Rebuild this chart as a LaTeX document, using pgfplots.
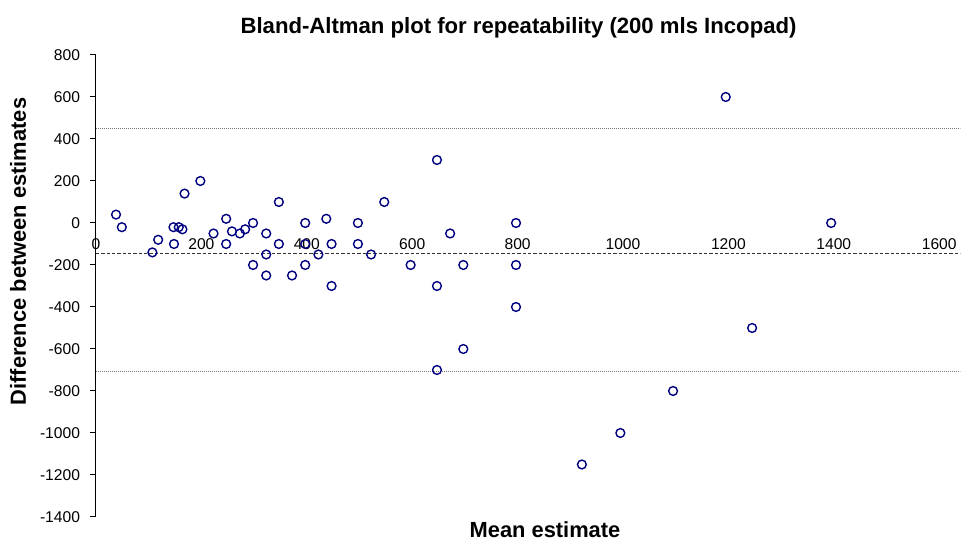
\documentclass[border=0pt]{standalone}
\usepackage{pgfplots}
\pgfplotsset{compat=1.18}
\usepackage{fontspec}
\setmainfont{Liberation Sans}
\definecolor{mk}{RGB}{0,0,128}
\begin{document}
\begin{tikzpicture}
\path[use as bounding box] (-72pt,-18pt) rectangle (648.75pt,387.75pt);
\begin{axis}[
 at={(0pt,0pt)}, anchor=south west,
 scale only axis, width=648.2pt, height=346.5pt,
 xmin=0, xmax=1640, ymin=-1400, ymax=800,
 axis y line=left, axis x line=middle,
 y axis line style={-, black, line width=0.75pt},
 x axis line style={draw=none},
 hide obscured x ticks=false,
 xtick={0,200,...,1600},
 xticklabels={0,200,400,600,800,1000,1200,1400,1600},
 ytick={-1400,-1200,...,800},
 yticklabels={-1400,-1200,-1000,-800,-600,-400,-200,0,200,400,600,800},
 x tick style={draw=none},
 y tick style={black, line width=0.75pt},
 tick align=outside, major tick length=4.5pt,
 tick label style={font=\fontsize{11.7}{14}\selectfont},
 xticklabel style={anchor=north, yshift=-4pt},
 yticklabel style={anchor=east, xshift=-4pt},
]
\addplot[black!80, line width=0.75pt, dash pattern=on 2.4pt off 1.6pt] coordinates {(0,-145) (1640,-145)};
\addplot[black!55, line width=0.75pt, dash pattern=on 0.75pt off 0.75pt] coordinates {(0,450) (1640,450)};
\addplot[black!55, line width=0.75pt, dash pattern=on 0.75pt off 0.75pt] coordinates {(0,-705) (1640,-705)};
\addplot[only marks, mark=o, mark size=3.3pt, mark options={draw=mk, line width=1.05pt}] table {
x y
38 40
49 -20
118 -80
107 -140
147 -20
157 -20
164 -30
148 -100
168 140
198 200
223 -50
247 20
247 -100
258 -40
273 -50
283 -30
298 0
298 -200
323 -50
323 -150
323 -250
347 100
347 -100
372 -250
397 0
397 -100
397 -200
422 -150
437 20
447 -100
447 -300
497 0
497 -100
522 -150
547 100
597 -200
647 300
647 -300
647 -700
672 -50
697 -200
697 -600
797 0
797 -200
797 -400
922 -1150
995 -1000
1095 -800
1195 600
1245 -500
1395 0
};
\end{axis}
\node[inner sep=0pt, font=\bfseries\fontsize{16.6}{20}\selectfont] at (316.9pt,366.75pt) {Bland-Altman plot for repeatability (200 mls Incopad)};
\node[inner sep=0pt, rotate=90, font=\bfseries\fontsize{16.4}{20}\selectfont] at (-58.5pt,199.1pt) {Difference between estimates};
\node[inner sep=0pt, font=\bfseries\fontsize{16.4}{20}\selectfont] at (336.75pt,-9.5pt) {Mean estimate};
\end{tikzpicture}
\end{document}
